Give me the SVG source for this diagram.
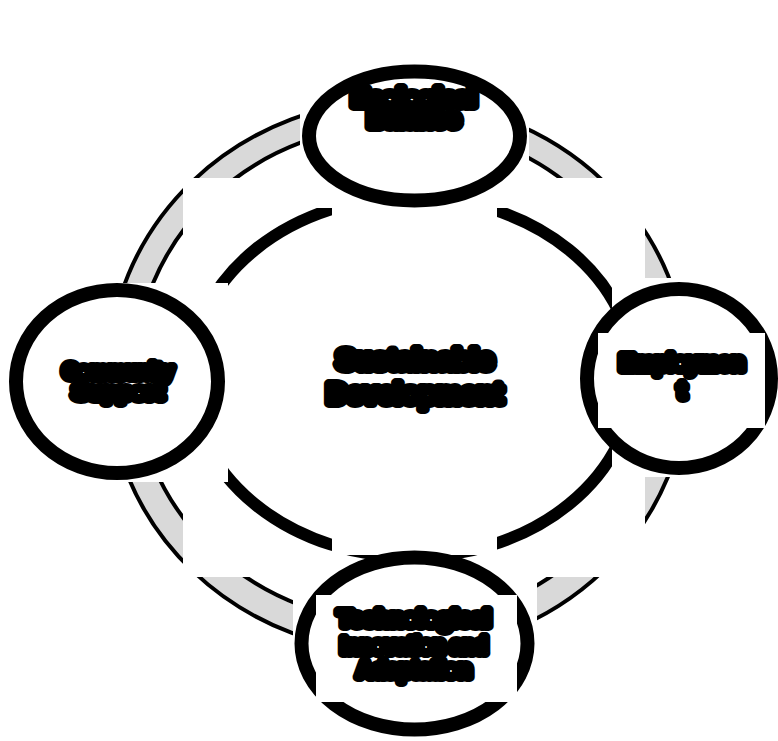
<svg xmlns="http://www.w3.org/2000/svg" width="778" height="741" viewBox="0 0 778 741">
<style>
.bg{fill:#ffffff}
.mask{fill:#ffffff;stroke:none}
.node{fill:#ffffff;stroke:#000000;stroke-width:14}
.lbl{font-family:"Liberation Sans",Arial,sans-serif;font-weight:bold;fill:#000000;stroke:#000000;stroke-width:10;stroke-linejoin:round;text-anchor:middle}
</style>
<rect class="bg" x="0" y="0" width="778" height="741"/>
<g id="connectors">
  <ellipse cx="398" cy="375" rx="277" ry="263" fill="none" stroke="#d9d9d9" stroke-width="26"/>
  <ellipse cx="398" cy="376" rx="290" ry="276" fill="none" stroke="#000" stroke-width="4"/>
  <ellipse cx="398" cy="374" rx="263" ry="249" fill="none" stroke="#000" stroke-width="4"/>
  <rect class="mask" x="183" y="178" width="462" height="399"/>
  <ellipse cx="412" cy="377" rx="222" ry="180" fill="none" stroke="#000" stroke-width="12"/>
  <rect class="mask" x="332" y="200" width="165" height="355"/>
  <rect class="mask" x="300" y="95" width="229" height="113"/>
  <rect class="mask" x="5" y="283" width="223" height="199"/>
  <rect class="mask" x="612" y="278" width="166" height="199"/>
  <rect class="mask" x="293" y="577" width="244" height="164"/>
</g>
<g id="center">
  <text class="lbl" x="415" y="369" font-size="28">Sustainable</text>
  <text class="lbl" x="415" y="403" font-size="28">Development</text>
</g>
<g id="node-top">
  <ellipse class="node" cx="414.5" cy="136" rx="105.5" ry="64.5"/>
  <text class="lbl" x="414" y="106" font-size="23" textLength="124" lengthAdjust="spacingAndGlyphs">Ecological</text>
  <text class="lbl" x="414" y="127" font-size="23" textLength="92" lengthAdjust="spacingAndGlyphs">Balance</text>
</g>
<g id="node-right">
  <ellipse class="node" cx="679" cy="378.5" rx="92" ry="89.5"/>
  <rect class="mask" x="598" y="333" width="167" height="95"/>
  <text class="lbl" x="682" y="370" font-size="22" textLength="124" lengthAdjust="spacingAndGlyphs">Employmen</text>
  <text class="lbl" x="682" y="398" font-size="22">t</text>
</g>
<g id="node-left">
  <ellipse class="node" cx="117" cy="381.5" rx="101" ry="91.5"/>
  <text class="lbl" x="118" y="378" font-size="21" textLength="110" lengthAdjust="spacingAndGlyphs">Community</text>
  <text class="lbl" x="118" y="399" font-size="21" textLength="90" lengthAdjust="spacingAndGlyphs">Support</text>
</g>
<g id="node-bottom">
  <ellipse class="node" cx="414.5" cy="643.5" rx="113" ry="86" stroke-width="15"/>
  <rect class="mask" x="316" y="595" width="201" height="107"/>
  <text class="lbl" x="414" y="626" font-size="22" textLength="152" lengthAdjust="spacingAndGlyphs">Technological</text>
  <text class="lbl" x="414" y="653" font-size="22" textLength="146" lengthAdjust="spacingAndGlyphs">Innovation and</text>
  <text class="lbl" x="414" y="677" font-size="22" textLength="114" lengthAdjust="spacingAndGlyphs">Adaptation</text>
</g>
</svg>
